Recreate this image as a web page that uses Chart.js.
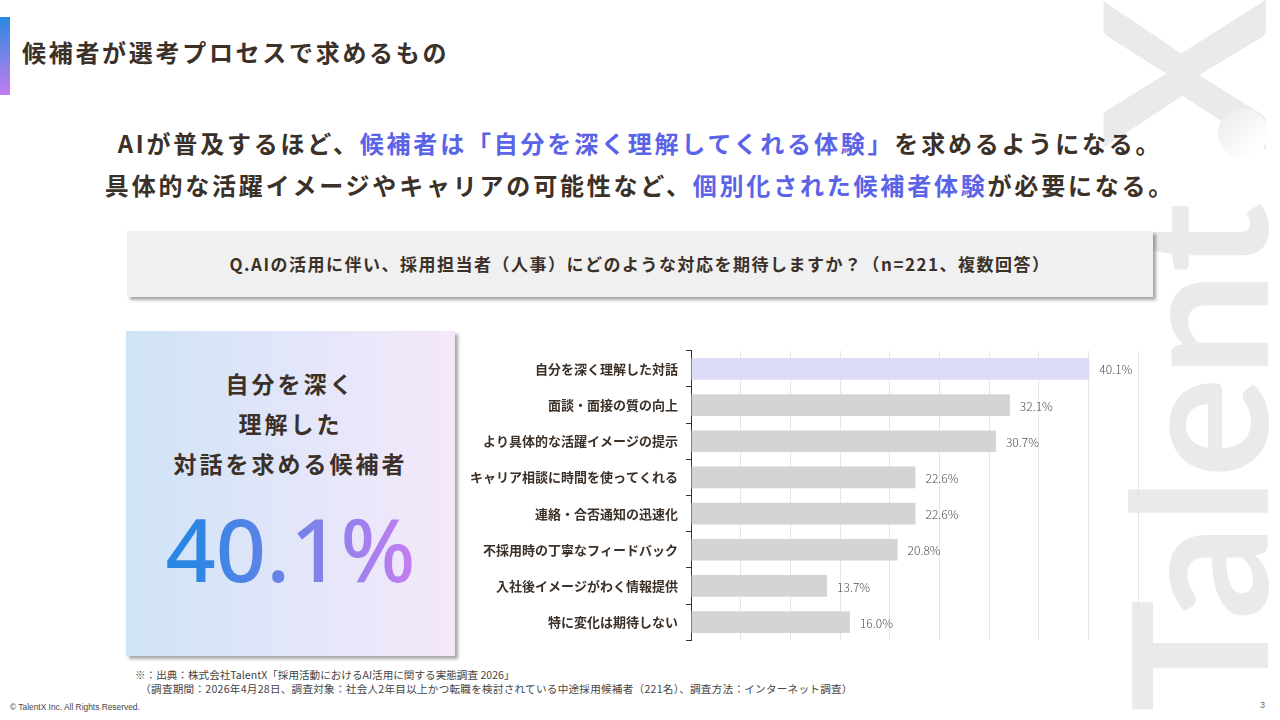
<!DOCTYPE html>
<html lang="ja">
<head>
<meta charset="utf-8">
<script src="https://cdn.jsdelivr.net/npm/chart.js@4"></script>
<style>
  html, body { margin: 0; padding: 0; }
  body {
    width: 1280px; height: 720px; position: relative; overflow: hidden;
    background: #fff; font-family: "Noto Sans CJK JP", "Noto Sans", sans-serif; color: #3b3129;
  }
  .abs { position: absolute; }
  #accent { left: 0; top: 17px; width: 10px; height: 78px; background: linear-gradient(#2a8ae0, #c47cf0); }
  #title { left: 22px; top: 36px; font-size: 24px; font-weight: 700; letter-spacing: 2.7px; line-height: 32px; }
  .wm {
    transform-origin: 0 0; transform: rotate(-90deg);
    font-family: Lato, sans-serif; font-weight: 700; color: #e9eaec; white-space: nowrap;
  }
  #wmText { left: 1101px; top: 712px; font-size: 188px; line-height: 188px; }
  #wmX { left: 1067px; top: 150px; font-size: 225px; line-height: 225px; }
  #wmDot { left: 1218px; top: 108px; width: 50px; height: 50px; border-radius: 50%;
    background: linear-gradient(135deg, #e8e9eb, #ffffff 80%); }
  #lead { left: 0; top: 122px; width: 1280px; text-align: center; font-size: 24px; font-weight: 700;
    letter-spacing: 2.8px; line-height: 42px; }
  #lead .hl { color: #5b63e6; }
  #question { left: 127px; top: 231px; width: 1026px; height: 66px; background: #f0f0f0;
    box-shadow: 3px 3px 3px rgba(0,0,0,0.35); text-align: center; line-height: 66px;
    font-size: 17px; font-weight: 700; letter-spacing: 1.5px; }
  #card { left: 126px; top: 331px; width: 329px; height: 325px;
    background: linear-gradient(90deg, #cfe3f7, #f5e8fb); box-shadow: 3px 3px 3px rgba(0,0,0,0.35); }
  #card .txt { position: absolute; left: 0; top: 32px; width: 100%; text-align: center;
    font-size: 23px; font-weight: 700; letter-spacing: 3px; line-height: 40px; }
  #card .big { position: absolute; left: 0; top: 162px; width: 100%; text-align: center;
    font-family: "Noto Sans", sans-serif; font-weight: 500; font-size: 88px; line-height: 110px;
    background: linear-gradient(90deg, #2a86e3 20%, #c07ef0 85%); -webkit-background-clip: text;
    background-clip: text; color: transparent; }
  #chartBox { left: 440px; top: 335px; width: 740px; height: 321px; }
  #note { left: 135px; top: 668px; font-size: 10.6px; line-height: 14px; color: #444; white-space: nowrap; }
  #note .l2 { letter-spacing: 0.25px; }
  #copy { left: 10px; top: 702px; font-size: 8.4px; color: #444; font-family: "Liberation Sans", sans-serif; }
  #page { left: 1260px; top: 700px; font-size: 9px; color: #666; font-family: "Liberation Sans", sans-serif; }
</style>
</head>
<body>
<div id="wmText" class="abs wm">Talent</div>
<div id="wmX" class="abs wm">X</div>
<div id="wmDot" class="abs"></div>
<div id="accent" class="abs"></div>
<div id="title" class="abs">候補者が選考プロセスで求めるもの</div>
<div id="lead" class="abs">
  AIが普及するほど、<span class="hl">候補者は「自分を深く理解してくれる体験」</span>を求めるようになる。<br>
  具体的な活躍イメージやキャリアの可能性など、<span class="hl">個別化された候補者体験</span>が必要になる。
</div>
<div id="question" class="abs">Q.AIの活用に伴い、採用担当者（人事）にどのような対応を期待しますか？（n=221、複数回答）</div>
<div id="card" class="abs">
  <div class="txt">自分を深く<br>理解した<br>対話を求める候補者</div>
  <div class="big">40.1%</div>
</div>
<div id="chartBox" class="abs"><canvas id="barChart"></canvas></div>
<div id="note" class="abs">※：出典：株式会社TalentX「採用活動におけるAI活用に関する実態調査 2026」<br>
  <span class="l2">&nbsp;&nbsp;（調査期間：2026年4月28日、調査対象：社会人2年目以上かつ転職を検討されている中途採用候補者（221名）、調査方法：インターネット調査）</span></div>
<div id="copy" class="abs">© TalentX Inc. All Rights Reserved.</div>
<div id="page" class="abs">3</div>

<script>
const categories = [
    '自分を深く理解した対話',
    '面談・面接の質の向上',
    'より具体的な活躍イメージの提示',
    'キャリア相談に時間を使ってくれる',
    '連絡・合否通知の迅速化',
    '不採用時の丁寧なフィードバック',
    '入社後イメージがわく情報提供',
    '特に変化は期待しない'
];
const values = [40.1, 32.1, 30.7, 22.6, 22.6, 20.8, 13.7, 16.0];
const xTicks = [0, 5, 10, 15, 20, 25, 30, 35, 40, 45];

const barColors = values.map((v, i) => i === 0 ? '#dcdcf8' : '#d4d4d4');

// draws "40.1%" style labels next to each bar
const valueLabels = {
    id: 'valueLabels',
    afterDatasetsDraw(chart) {
        const ctx = chart.ctx;
        const meta = chart.getDatasetMeta(0);
        ctx.save();
        ctx.font = '300 12px "Noto Sans CJK JP", sans-serif';
        ctx.fillStyle = '#4d4d4d';
        ctx.textAlign = 'left';
        ctx.textBaseline = 'middle';
        meta.data.forEach((bar, i) => {
            ctx.fillText(values[i].toFixed(1) + '%', bar.x + 10, bar.y + 1);
        });
        ctx.restore();
    }
};

const ctx = document.getElementById('barChart').getContext('2d');
new Chart(ctx, {
    type: 'bar',
    data: {
        labels: categories,
        datasets: [{
            data: values,
            backgroundColor: barColors,
            barPercentage: 0.6,
            categoryPercentage: 1.0
        }]
    },
    options: {
        indexAxis: 'y',
        responsive: true,
        maintainAspectRatio: false,
        animation: false,
        layout: {
            padding: { top: 5, bottom: 5, right: 42, left: 0 }
        },
        scales: {
            x: {
                min: 0,
                max: 45,
                afterBuildTicks: (scale) => { scale.ticks = xTicks.map(v => ({ value: v })); },
                ticks: { display: false },
                border: { display: false },
                grid: { color: '#e6e6e6', lineWidth: 1, drawTicks: false }
            },
            y: {
                afterFit: (scale) => { scale.width = 251; },
                border: { display: true, color: '#333333', width: 1 },
                grid: {
                    offset: true,
                    drawOnChartArea: false,
                    drawTicks: true,
                    tickLength: 5,
                    color: '#333333'
                },
                ticks: {
                    padding: 8,
                    color: '#3b3129',
                    font: { family: '"Noto Sans CJK JP", sans-serif', size: 13, weight: 'bold' }
                }
            }
        },
        plugins: {
            legend: { display: false },
            tooltip: { enabled: false }
        }
    },
    plugins: [valueLabels]
});
</script>
</body>
</html>
